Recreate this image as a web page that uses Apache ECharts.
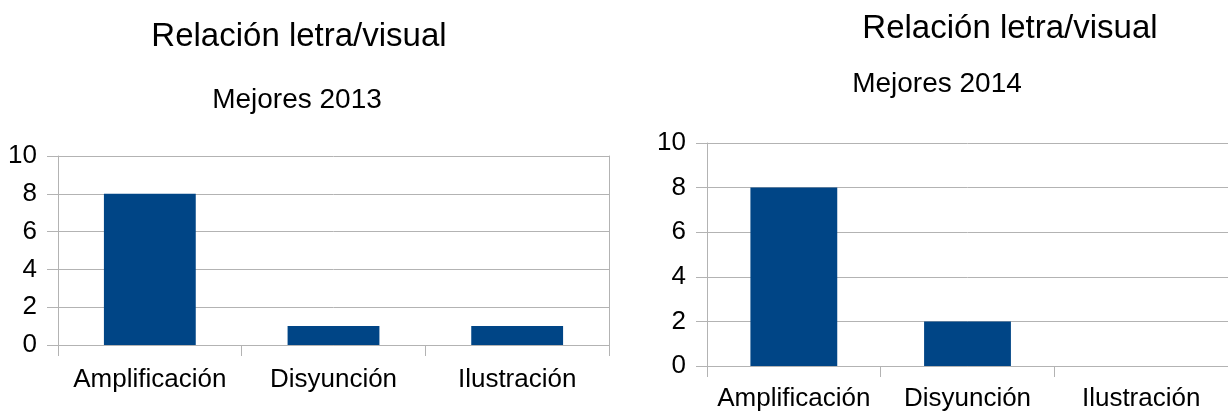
<!DOCTYPE html>
<html>
<head>
<meta charset="utf-8">
<script src="https://cdn.jsdelivr.net/npm/echarts@6/dist/echarts.min.js"></script>
<style>html,body{margin:0;padding:0;background:#fff}#c{width:1228px;height:412px}</style>
</head>
<body>
<div id="c"></div>
<script>
var categories = ['Amplificación', 'Disyunción', 'Ilustración'];
var values2013 = [8, 1, 1];
var values2014 = [8, 2, 0];
var yTicks = [0, 2, 4, 6, 8, 10];
var titleText = 'Relación letra/visual';
var subtitle2013 = 'Mejores 2013';
var subtitle2014 = 'Mejores 2014';

var FONT = '"Liberation Sans", Arial, sans-serif';
var GRAY = '#b3b3b3';
var BAR = '#004586';

var chart = echarts.init(document.getElementById('c'));

function yAx(gi) {
  return {
    type: 'value', gridIndex: gi, min: yTicks[0], max: yTicks[yTicks.length - 1], interval: 2,
    axisLine: { show: true, lineStyle: { color: GRAY, width: 1 } },
    axisTick: { show: true, length: 11, lineStyle: { color: GRAY } },
    splitLine: { show: true, lineStyle: { color: GRAY, width: 1 } },
    axisLabel: { margin: 21, color: '#000', fontFamily: FONT, fontSize: 26 }
  };
}
function xAx(gi, m) {
  return {
    type: 'category', gridIndex: gi, data: categories,
    axisLine: { show: true, lineStyle: { color: GRAY, width: 1 } },
    axisTick: { show: true, length: 11, lineStyle: { color: GRAY } },
    axisLabel: { margin: m, color: '#000', fontFamily: FONT, fontSize: 26, interval: 0 }
  };
}
function tt(text, x, y, fs) {
  return { text: text, left: x, top: y, textAlign: 'center', padding: 0,
    textStyle: { fontFamily: FONT, fontSize: fs, fontWeight: 'normal', color: '#000' } };
}

chart.setOption({
  animation: false,
  backgroundColor: '#fff',
  title: [
    tt(titleText, 299, 20, 33),
    tt(subtitle2013, 297, 86, 28),
    tt(titleText, 1010, 12, 33),
    tt(subtitle2014, 937, 70, 28)
  ],
  grid: [
    { left: 58, width: 551, top: 156, height: 189 },
    { left: 707, width: 531, top: 143, height: 224 }
  ],
  xAxis: [xAx(0, 22), xAx(1, 20)],
  yAxis: [
    yAx(0),
    yAx(1),
    { type: 'value', gridIndex: 0, position: 'right', min: 0, max: 10, interval: 2,
      axisLine: { show: true, lineStyle: { color: GRAY } },
      axisTick: { show: false }, axisLabel: { show: false }, splitLine: { show: false } }
  ],
  series: [
    { type: 'bar', xAxisIndex: 0, yAxisIndex: 0, data: values2013, barWidth: '50%', itemStyle: { color: BAR } },
    { type: 'bar', xAxisIndex: 1, yAxisIndex: 1, data: values2014, barWidth: '50%', itemStyle: { color: BAR } }
  ]
});
</script>
</body>
</html>
